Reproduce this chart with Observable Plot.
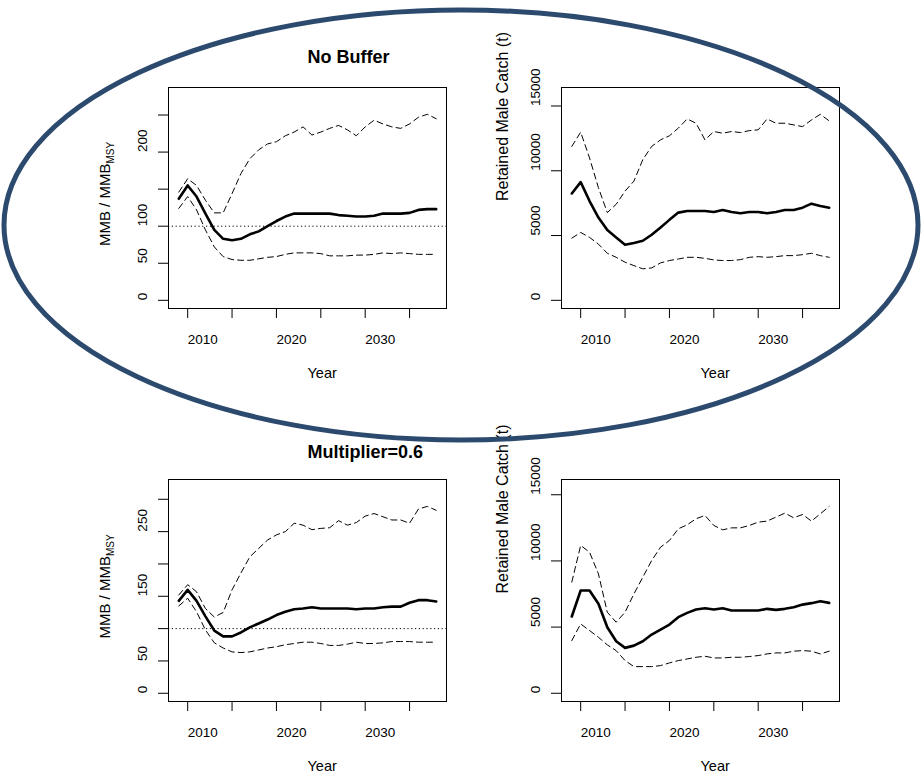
<!DOCTYPE html>
<html>
<head>
<meta charset="utf-8">
<script src="https://cdn.jsdelivr.net/npm/d3@7"></script>
<script src="https://cdn.jsdelivr.net/npm/@observablehq/plot@0.6"></script>
<style>
  body { margin: 0; background: #fff; }
  #page { position: relative; width: 921px; height: 782px; overflow: hidden; background: #fff;
          font-family: "Liberation Sans", Arial, sans-serif; }
  .panel { position: absolute; }
  #ring { position: absolute; left: 0; top: 0; pointer-events: none; }
</style>
</head>
<body>
<div id="page"></div>
<script>
// ---------------- data ----------------
const years = [2009,2010,2011,2012,2013,2014,2015,2016,2017,2018,2019,2020,2021,2022,2023,
               2024,2025,2026,2027,2028,2029,2030,2031,2032,2033,2034,2035,2036,2037,2038];

// No Buffer: MMB / MMB_MSY (%)
const nbMmbMean  = [137,155,140,117,95,83,81,83,89,93,100,107,113,117,117,117,117,117,115,114,113,113,114,117,117,117,118,122,123,123];
const nbMmbUpper = [146,164,155,135,118,118,144,171,191,203,211,214,222,227,234,223,227,232,236,230,222,234,243,238,234,232,238,247,251,245];
const nbMmbLower = [124,140,122,95,72,59,55,54,54,56,58,59,62,64,64,64,63,60,60,60,61,61,62,64,63,64,63,62,62,62];

// No Buffer: retained male catch (t)
const nbCatchMean  = [8250,9120,7665,6390,5420,4855,4290,4420,4600,5060,5620,6210,6770,6900,6900,6900,6820,6975,6820,6720,6820,6820,6720,6820,6975,6975,7150,7460,7280,7150];
const nbCatchUpper = [11880,12980,10990,8690,6770,7410,8430,9200,10860,11880,12390,12700,13290,14000,13670,12390,13030,12900,13030,12950,13100,13160,14000,13670,13670,13540,13410,13920,14360,13850];
const nbCatchLower = [4800,5240,4855,4340,3630,3320,2940,2680,2430,2500,2890,3070,3190,3320,3320,3240,3120,3070,3070,3140,3320,3370,3320,3370,3450,3450,3525,3630,3450,3320];

// Multiplier = 0.6: MMB / MMB_MSY (%)
const m6MmbMean  = [143,160,143,119,97,88,88,94,102,108,114,121,126,130,131,133,131,131,131,131,130,131,131,133,134,134,140,144,144,142];
const m6MmbUpper = [152,168,157,131,118,125,160,186,211,224,237,245,250,263,260,253,255,256,267,260,264,274,278,273,268,268,263,285,289,283];
const m6MmbLower = [135,147,126,98,78,70,64,63,64,67,70,72,75,77,79,79,77,74,74,76,79,77,77,78,80,80,80,79,79,79];

// Multiplier = 0.6: retained male catch (t)
const m6CatchMean  = [5800,7765,7765,6760,4990,3930,3430,3600,3930,4440,4815,5190,5750,6075,6330,6430,6330,6430,6250,6250,6250,6250,6380,6300,6380,6500,6700,6810,6960,6830];
const m6CatchUpper = [8400,11170,10660,9025,6125,5370,6125,7510,8770,10030,11040,11545,12430,12730,13185,13440,12680,12350,12500,12500,12680,12930,13010,13310,13610,13260,13510,13010,13560,14120];
const m6CatchLower = [3980,5240,4740,4235,3655,3225,2470,2015,2015,2015,2090,2295,2470,2595,2720,2800,2670,2670,2720,2720,2775,2850,2975,3050,3050,3180,3225,3180,2975,3180];

// ticks, labels, text
const xTicks  = [2010,2015,2020,2025,2030,2035];
const xLabels = [2010,2020,2030];
const nbMmbTicks  = [0,50,100,150,200,250];
const nbMmbLabels = [0,50,100,200];
const m6MmbTicks  = [0,50,100,150,200,250,300];
const m6MmbLabels = [0,50,150,250];
const catchTicks  = [0,5000,10000,15000];
const refLevel = 100;
const titles = ["No Buffer", "Multiplier=0.6"];
const xTitle = "Year";
const mmbTitle = "MMB / MMB";
const mmbSub = "MSY";
const catchTitle = "Retained Male Catch (t)";

// ---------------- drawing ----------------
const page = document.getElementById("page");
const FONT = "'Liberation Sans', Arial, Helvetica, sans-serif";

function panel(o) {
  const rows = years.map((year, i) => ({year, mean: o.mean[i], lower: o.lower[i], upper: o.upper[i]}));
  const ylimMax = 1.1 * d3.max(o.upper);                 // ylim = c(0, 1.1*max)
  const yDomain = [-0.04 * ylimMax, 1.04 * ylimMax];     // R's 4% axis extension
  const span = d3.max(years) - d3.min(years);
  const xDomain = [d3.min(years) - 0.04 * span, d3.max(years) + 0.04 * span];

  const marks = [
    Plot.axisX({ticks: xTicks, tickSize: 10, tickPadding: 16, textAnchor: "start",
                tickFormat: d => xLabels.includes(d) ? String(d) : "", label: null, fontSize: 13.5}),
    Plot.axisY({ticks: o.yTicks, tickSize: 10, tickPadding: 12, tickRotate: -90, textAnchor: "start",
                tickFormat: d => o.yLabels.includes(d) ? String(d) : "", label: null, fontSize: 13.5}),
  ];
  if (o.kind === "mmb") {
    marks.push(Plot.ruleY([refLevel], {stroke: "black", strokeWidth: 1, strokeDasharray: "1.2,2.6"}));
  }
  marks.push(
    Plot.line(rows, {x: "year", y: "upper", stroke: "black", strokeWidth: 1, strokeDasharray: "6,4"}),
    Plot.line(rows, {x: "year", y: "lower", stroke: "black", strokeWidth: 1, strokeDasharray: "6,4"}),
    Plot.line(rows, {x: "year", y: "mean", stroke: "black", strokeWidth: 2.6}),
    Plot.frame({stroke: "black", strokeWidth: 1}),
    Plot.text([xTitle], {text: d => d, frameAnchor: "bottom", dy: 69, textAnchor: "start", fontSize: 14.5})
  );
  if (o.title) {
    marks.push(Plot.text([o.title], {text: d => d, frameAnchor: "top", dy: o.titleDy, textAnchor: "start",
                                     fontWeight: "bold", fontSize: 18}));
  }
  if (o.kind === "mmb") {
    marks.push(Plot.text([mmbTitle], {text: d => d, frameAnchor: "left", rotate: -90, textAnchor: "middle",
                                      dx: -63, dy: -4, fontSize: 15}));
  } else {
    marks.push(Plot.text([catchTitle], {text: d => d, frameAnchor: "left", rotate: -90, textAnchor: "start",
                                        dx: -59, dy: 3, fontSize: 16}));
  }

  const svg = Plot.plot({
    width: o.width, height: o.height,
    marginLeft: o.ml, marginRight: o.mr, marginTop: o.mt, marginBottom: o.mb,
    x: {domain: xDomain},
    y: {domain: yDomain},
    style: {fontFamily: FONT, fontSize: "13.5px", color: "black", background: "white", overflow: "visible"},
    marks
  });

  // subscript for MMB_MSY
  svg.querySelectorAll("text").forEach(t => {
    if (t.textContent === mmbTitle) {
      const ts = document.createElementNS("http://www.w3.org/2000/svg", "tspan");
      ts.setAttribute("dy", "0.35em");
      ts.setAttribute("font-size", "10");
      ts.textContent = mmbSub;
      t.appendChild(ts);
    }
  });

  const div = document.createElement("div");
  div.className = "panel";
  div.style.left = o.left + "px";
  div.style.top = o.top + "px";
  div.appendChild(svg);
  page.appendChild(div);
}

panel({kind: "mmb", mean: nbMmbMean, upper: nbMmbUpper, lower: nbMmbLower,
       yTicks: nbMmbTicks, yLabels: nbMmbLabels, title: titles[0], titleDy: -37,
       left: 0, top: 0, width: 460, height: 391, ml: 168, mr: 14, mt: 87, mb: 83});
panel({kind: "catch", mean: nbCatchMean, upper: nbCatchUpper, lower: nbCatchLower,
       yTicks: catchTicks, yLabels: catchTicks,
       left: 460, top: 0, width: 461, height: 391, ml: 101, mr: 82, mt: 87, mb: 83});
panel({kind: "mmb", mean: m6MmbMean, upper: m6MmbUpper, lower: m6MmbLower,
       yTicks: m6MmbTicks, yLabels: m6MmbLabels, title: titles[1], titleDy: -34,
       left: 0, top: 391, width: 460, height: 391, ml: 168, mr: 14, mt: 88, mb: 81});
panel({kind: "catch", mean: m6CatchMean, upper: m6CatchUpper, lower: m6CatchLower,
       yTicks: catchTicks, yLabels: catchTicks,
       left: 460, top: 391, width: 461, height: 391, ml: 101, mr: 82, mt: 88, mb: 81});

// highlight ellipse drawn over the top row
const ring = d3.select(page).append("svg").attr("id", "ring").attr("width", 921).attr("height", 782);
ring.append("ellipse").attr("cx", 461).attr("cy", 225).attr("rx", 457).attr("ry", 215)
    .attr("fill", "none").attr("stroke", "#2c4a6e").attr("stroke-width", 5);
</script>
</body>
</html>
